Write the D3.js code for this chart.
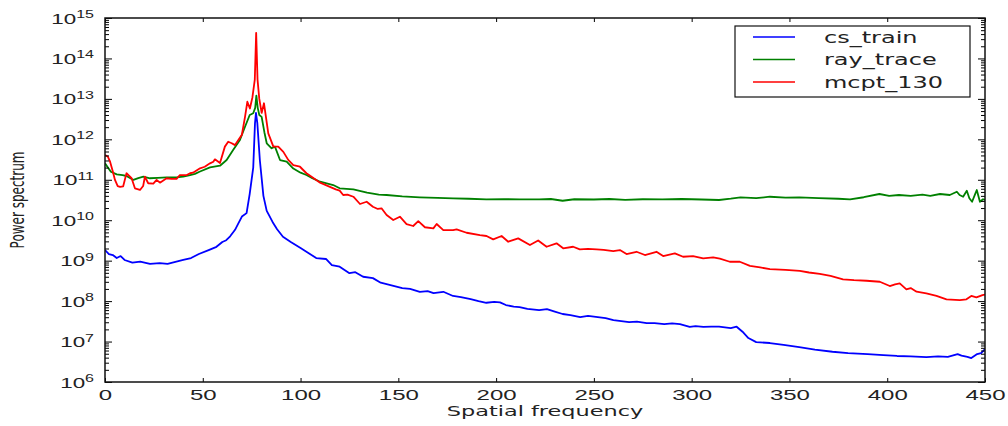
<!DOCTYPE html>
<html>
<head>
<meta charset="utf-8">
<script src="https://cdn.jsdelivr.net/npm/d3@7"></script>
<style>
    body { margin: 0; background: #fff; }
    svg { display: block; font-family: "DejaVu Sans", sans-serif; }
</style>
</head>
<body>
<svg id="chart" width="1008" height="426"></svg>
<script>
// [spatial frequency, power]
const csTrain = [[0,1.83e9],[2,1.46e9],[4,1.38e9],[6,1.16e9],[8,1.3e9],[10,1.04e9],[14,8.9e8],[18,9.5e8],[23,8.3e8],[28,8.7e8],[32,8.3e8],[36,9.3e8],[40,1.04e9],[44,1.16e9],[48,1.46e9],[53,1.83e9],[57,2.2e9],[60,2.9e9],[62,3.2e9],[64,4e9],[66.5,5.8e9],[68,8e9],[70,1.23e10],[72.4,1.5e10],[74,4.5e10],[75.8,2e11],[76.7,2.5e12],[77.2,4.5e12],[77.9,2.5e12],[79.2,3e11],[81,4e10],[82.7,1.7e10],[84,1.3e10],[86,8.5e9],[88,6e9],[91,3.9e9],[95,2.9e9],[100,2.06e9],[104,1.55e9],[108,1.16e9],[113,1.1e9],[116,7.8e8],[120,7.1e8],[125,4.9e8],[128,5.2e8],[132,4e8],[137,3.7e8],[141,2.85e8],[146,2.5e8],[152,2.1e8],[156,2e8],[161,1.7e8],[165,1.77e8],[168,1.58e8],[173,1.7e8],[178,1.34e8],[182,1.26e8],[187,1.12e8],[191,1e8],[195,9.1e7],[199,9.6e7],[202,9.3e7],[205,8e7],[209,7.3e7],[212,7.1e7],[216,6.4e7],[222,6e7],[226,6.3e7],[230,5.5e7],[234,4.8e7],[238,4.5e7],[243,4.04e7],[247,4.3e7],[252,4.04e7],[256,3.8e7],[260,3.4e7],[264,3.2e7],[268,3.04e7],[272,3.1e7],[277,2.87e7],[281,2.87e7],[286,2.7e7],[290,2.8e7],[294,2.7e7],[299,2.3e7],[302,2.4e7],[306,2.3e7],[310,2.35e7],[314,2.33e7],[320,2.16e7],[323,2.33e7],[326,1.75e7],[329,1.22e7],[333,9.7e6],[340,9.2e6],[347,8.3e6],[355,7.3e6],[363,6.3e6],[372,5.6e6],[380,5.2e6],[390,4.9e6],[398,4.6e6],[405,4.4e6],[412,4.3e6],[420,4.1e6],[426,4.3e6],[431,4.2e6],[436,4.9e6],[438,4.5e6],[441,4.2e6],[443,3.9e6],[446,4.9e6],[448,5.2e6],[450,6.5e6]];

const rayTrace = [[0,2.55e11],[1.5,2e11],[3,1.58e11],[6,1.36e11],[9,1.3e11],[11,1.24e11],[14.5,9.9e10],[17,1.1e11],[19.6,1.19e11],[23,1.09e11],[27,1.12e11],[31.5,1.15e11],[36.6,1.15e11],[40,1.2e11],[43.5,1.31e11],[46,1.4e11],[48.6,1.6e11],[53.7,2.03e11],[58.8,2.23e11],[62.2,3.08e11],[65.6,5.5e11],[69,9.6e11],[71.6,2.05e12],[74,4e12],[75.8,4.4e12],[76.8,6e12],[77.4,1.2e13],[78.1,6e12],[78.9,4e12],[80.1,3.6e12],[81.5,1.5e12],[82.7,8e11],[85.2,6e11],[86.9,6.6e11],[89.5,3.08e11],[92.9,2.8e11],[96.3,1.9e11],[100,1.5e11],[103,1.31e11],[106,1.1e11],[110,8.96e10],[116.7,7.4e10],[120,6.15e10],[127,5.8e10],[134,4.8e10],[140,4.3e10],[144,4.2e10],[152,3.9e10],[161,3.68e10],[170,3.55e10],[178,3.48e10],[186,3.4e10],[195,3.29e10],[204,3.3e10],[212,3.29e10],[222,3.29e10],[228,3.35e10],[234,3.03e10],[240,3.3e10],[250,3.25e10],[258,3.35e10],[266,3.2e10],[275,3.3e10],[285,3.29e10],[295,3.35e10],[305,3.25e10],[314,3.16e10],[320,3.4e10],[325,3.68e10],[333,3.5e10],[340,3.81e10],[348,3.6e10],[355,3.68e10],[365,3.5e10],[375,3.4e10],[381,3.29e10],[388,3.7e10],[396,4.45e10],[401,4e10],[406,4.2e10],[412,4e10],[418,4.3e10],[422,4e10],[427,4.45e10],[432,4.2e10],[435.6,5.07e10],[437,4.2e10],[438.8,3.81e10],[440.7,5.37e10],[442,3.5e10],[443.4,2.86e10],[445,4.5e10],[445.8,5.58e10],[447.4,2.86e10],[449,3.3e10],[450,3.16e10]];

const mcpt130 = [[0,4.1e11],[1.5,3.7e11],[2.6,2.8e11],[4,1.6e11],[5.1,9.9e10],[6.5,7e10],[7.7,6.7e10],[9.3,6.9e10],[11,1.45e11],[12,1.3e11],[13.6,1.09e11],[15.3,6.15e10],[17.9,5.6e10],[19.5,7e10],[20.4,1.19e11],[22.1,8.2e10],[24.7,8e10],[26.4,9.9e10],[28.1,8.5e10],[31.5,1.09e11],[34,1.05e11],[36.6,1.05e11],[38.3,1.31e11],[41.8,1.31e11],[43.5,1.45e11],[45,1.5e11],[48.6,1.92e11],[51,2.1e11],[53.7,2.55e11],[55.4,2.8e11],[56.2,3.2e11],[58.8,2.6e11],[61.3,6.6e11],[63,8.7e11],[64.8,8e11],[66.5,7.2e11],[68.2,9.6e11],[70,1.3e12],[71.6,3.6e12],[72.8,8.5e12],[74.1,5.8e12],[75.4,1.1e13],[76.6,3e13],[77.3,4.3e14],[78,3e13],[78.9,1e13],[80.1,4.5e12],[81.3,7.8e12],[83.5,1.4e12],[86.1,6.6e11],[88.6,6.6e11],[91.2,4.9e11],[93.7,3.1e11],[96.3,2.3e11],[99.7,2.1e11],[103,1.45e11],[106,1.15e11],[110,8.5e10],[115,6.7e10],[118,5.8e10],[120,5.4e10],[121.8,4.2e10],[124,4.3e10],[127,3.81e10],[130.4,2.52e10],[133.8,2.86e10],[137,2.16e10],[139.5,1.9e10],[141.4,1.97e10],[144,1.35e10],[147.4,1.01e10],[150.8,1.22e10],[154.2,8.05e9],[157.6,7.2e9],[160.2,9.5e9],[163.6,6.7e9],[167.9,6.3e9],[169.6,8.05e9],[173,5.7e9],[178,5.7e9],[179.8,5.96e9],[184.9,4.9e9],[191.7,4.3e9],[195.1,4.07e9],[198.5,3.37e9],[202.8,4.07e9],[206.2,2.94e9],[211.3,3.56e9],[217.3,2.44e9],[221.5,3.15e9],[225.8,2.21e9],[230.9,2.69e9],[234.3,2.02e9],[239.4,2.21e9],[242.8,1.9e9],[247,1.95e9],[251.4,1.9e9],[255,1.85e9],[259.9,1.73e9],[263.3,1.83e9],[266.7,1.46e9],[271.8,1.66e9],[276.1,1.38e9],[282,1.66e9],[285.4,1.3e9],[291.4,1.52e9],[295.6,1.25e9],[300.7,1.3e9],[305.9,1.14e9],[311,1.21e9],[314.4,1.12e9],[319.5,9.4e8],[324.6,9.4e8],[329.8,7.4e8],[335,6.8e8],[340,6.2e8],[348,5.9e8],[355.3,5.6e8],[360,5.1e8],[365.5,4.7e8],[371,4.2e8],[377.4,3.46e8],[383,3.3e8],[389.4,3.19e8],[396.2,3.01e8],[401.3,2.36e8],[404,2.6e8],[406.4,2.75e8],[409.8,1.95e8],[412,2.1e8],[415,1.71e8],[420,1.56e8],[425.2,1.34e8],[430.3,1.11e8],[437.1,1.06e8],[440.5,1.11e8],[443,1.34e8],[445.6,1.24e8],[448.7,1.41e8],[450,1.45e8]];

const seriesNames = ["cs_train", "ray_trace", "mcpt_130"];
const seriesColors = ["#0000ff", "#008000", "#ff0000"];
const xTickValues = [0, 50, 100, 150, 200, 250, 300, 350, 400, 450];
const yDecades = [6, 7, 8, 9, 10, 11, 12, 13, 14, 15];

const width = 1008, height = 426;
const margin = {top: 18, right: 23, bottom: 44, left: 105};
// the reference is stretched sideways, so text gets stretched too
const stretch = 1.6;

const svg = d3.select("#chart");

const x = d3.scaleLinear()
    .domain([0, 450])
    .range([margin.left, width - margin.right]);

const y = d3.scaleLog()
    .domain([1e6, 1e15])
    .range([height - margin.bottom, margin.top]);

svg.append("clipPath")
    .attr("id", "plot-clip")
    .append("rect")
    .attr("x", margin.left)
    .attr("y", margin.top)
    .attr("width", x.range()[1] - x.range()[0])
    .attr("height", y.range()[0] - y.range()[1]);

const line = d3.line()
    .x(d => x(d[0]))
    .y(d => y(d[1]));

const allSeries = [csTrain, rayTrace, mcpt130];

svg.append("g")
    .attr("clip-path", "url(#plot-clip)")
    .selectAll("path")
    .data(allSeries)
    .join("path")
    .attr("d", line)
    .attr("fill", "none")
    .attr("stroke", (d, i) => seriesColors[i])
    .attr("stroke-width", 1.8)
    .attr("stroke-linejoin", "round");

// ticks
const majorY = yDecades.map(e => Math.pow(10, e));
const minorY = [];
yDecades.slice(0, -1).forEach(e => {
    for (let m = 2; m <= 9; m++) minorY.push(m * Math.pow(10, e));
});

function styleTicks(g) {
    g.select(".domain").remove();
    g.selectAll(".tick line").attr("stroke", "#000").attr("stroke-width", 1);
}

svg.append("g")
    .attr("transform", `translate(${margin.left},0)`)
    .call(d3.axisLeft(y).tickValues(minorY).tickSize(-4).tickFormat(""))
    .call(styleTicks);

svg.append("g")
    .attr("transform", `translate(${width - margin.right},0)`)
    .call(d3.axisRight(y).tickValues(minorY).tickSize(-4).tickFormat(""))
    .call(styleTicks);

svg.append("g")
    .attr("transform", `translate(${width - margin.right},0)`)
    .call(d3.axisRight(y).tickValues(majorY).tickSize(-7).tickFormat(""))
    .call(styleTicks);

const yAxis = svg.append("g")
    .attr("transform", `translate(${margin.left},0)`)
    .call(d3.axisLeft(y).tickValues(majorY).tickSize(-7))
    .call(styleTicks);

yAxis.selectAll(".tick text").each(function(d) {
    const t = d3.select(this);
    const exp = Math.round(Math.log10(d));
    t.text(null)
        .attr("x", null)
        .attr("dy", null)
        .attr("text-anchor", "end")
        .attr("fill", "#222")
        .attr("font-size", 14)
        .attr("transform", `translate(-11,5) scale(${stretch},1)`);
    t.append("tspan").text("10");
    t.append("tspan").attr("dy", -5.5).attr("font-size", 10).text(exp);
});

svg.append("g")
    .attr("transform", `translate(0,${margin.top})`)
    .call(d3.axisTop(x).tickValues(xTickValues).tickSize(-4).tickFormat(""))
    .call(styleTicks);

const xAxis = svg.append("g")
    .attr("transform", `translate(0,${height - margin.bottom})`)
    .call(d3.axisBottom(x).tickValues(xTickValues).tickSize(-4))
    .call(styleTicks);

xAxis.selectAll(".tick text")
    .attr("y", null)
    .attr("dy", null)
    .attr("fill", "#222")
    .attr("font-size", 15)
    .attr("transform", `translate(0,17.5) scale(${stretch},1)`);

// frame
svg.append("rect")
    .attr("x", margin.left)
    .attr("y", margin.top)
    .attr("width", x.range()[1] - x.range()[0])
    .attr("height", y.range()[0] - y.range()[1])
    .attr("fill", "none")
    .attr("stroke", "#111")
    .attr("stroke-width", 1.5);

// axis titles
svg.append("text")
    .attr("transform", `translate(${(x.range()[0] + x.range()[1]) / 2},416) scale(${stretch},1)`)
    .attr("text-anchor", "middle")
    .attr("font-size", 14)
    .attr("fill", "#222")
    .text("Spatial frequency");

svg.append("text")
    .attr("transform", `translate(24,200) rotate(-90) scale(1,${stretch})`)
    .attr("text-anchor", "middle")
    .attr("font-size", 12)
    .attr("fill", "#222")
    .text("Power spectrum");

// legend
const legend = svg.append("g");

legend.append("rect")
    .attr("x", 735)
    .attr("y", 26)
    .attr("width", 235)
    .attr("height", 71)
    .attr("fill", "#fff")
    .attr("stroke", "#111")
    .attr("stroke-width", 1.2);

const rows = legend.selectAll("g.row")
    .data(seriesNames)
    .join("g")
    .attr("class", "row")
    .attr("transform", (d, i) => `translate(0,${37 + i * 22.5})`);

rows.append("line")
    .attr("x1", 753)
    .attr("x2", 795)
    .attr("stroke", (d, i) => seriesColors[i])
    .attr("stroke-width", 1.4);

rows.append("text")
    .attr("transform", `translate(824,5.5) scale(${stretch},1)`)
    .attr("font-size", 15)
    .attr("fill", "#222")
    .text(d => d);
</script>
</body>
</html>
